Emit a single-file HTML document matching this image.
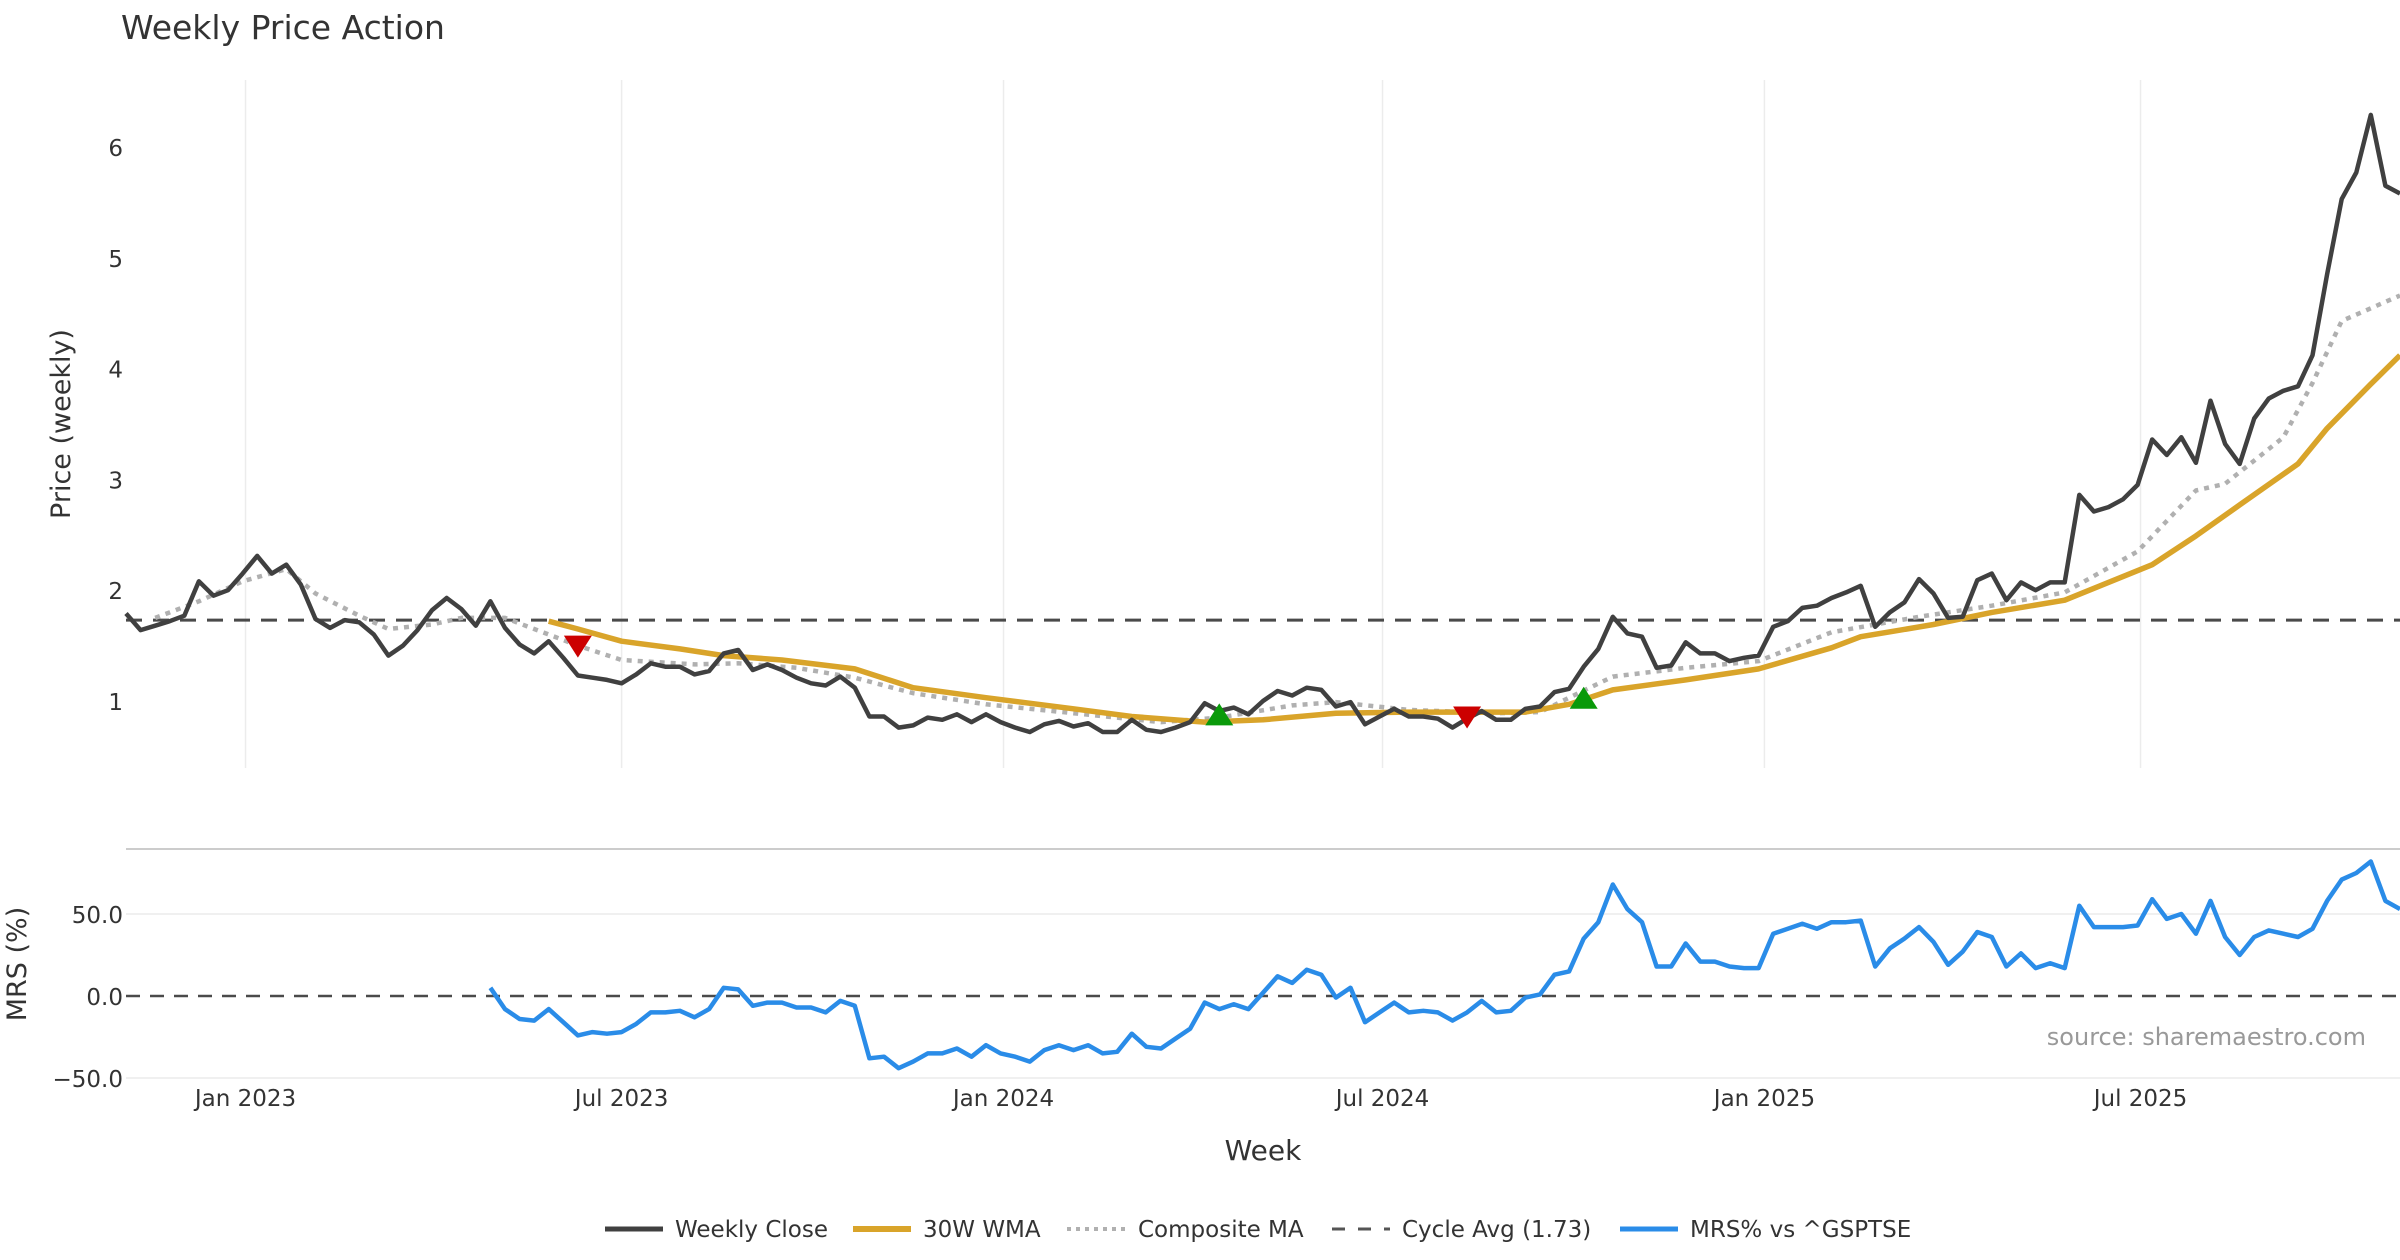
<!DOCTYPE html>
<html><head><meta charset="utf-8"><style>
html,body{margin:0;padding:0;background:#fff;}
svg{display:block;font-family:"DejaVu Sans","Liberation Sans",sans-serif;}
</style></head><body>
<svg id="chart" width="2400" height="1260" viewBox="0 0 2400 1260">
<text x="121" y="39" font-size="33" fill="#333">Weekly Price Action</text>
<text transform="translate(70,424) rotate(-90)" text-anchor="middle" font-size="27" fill="#333">Price (weekly)</text>
<text transform="translate(26,964) rotate(-90)" text-anchor="middle" font-size="27" fill="#333">MRS (%)</text>
<text x="1263" y="1160" text-anchor="middle" font-size="28" fill="#333">Week</text>
<text x="2366" y="1045" text-anchor="end" font-size="24" fill="#999">source: sharemaestro.com</text>
<line x1="126" y1="849" x2="2400" y2="849" stroke="#ccc" stroke-width="2"/>
<g id="grid"></g><g id="ticks"></g><g id="series"></g>
<g id="legend" font-size="23" fill="#333">
<g><line x1="605" y1="1229" x2="663" y2="1229" stroke="#404040" stroke-width="5"/><text x="675" y="1237">Weekly Close</text></g>
<g><line x1="853" y1="1229" x2="911" y2="1229" stroke="#d9a42a" stroke-width="6"/><text x="923" y="1237">30W WMA</text></g>
<g><line x1="1067" y1="1229" x2="1125" y2="1229" stroke="#b0b0b0" stroke-width="4" stroke-dasharray="4,5"/><text x="1138" y="1237">Composite MA</text></g>
<g><line x1="1332" y1="1229" x2="1390" y2="1229" stroke="#555" stroke-width="3" stroke-dasharray="13,13"/><text x="1402" y="1237">Cycle Avg (1.73)</text></g>
<g><line x1="1620" y1="1229" x2="1678" y2="1229" stroke="#2a8ce8" stroke-width="5"/><text x="1690" y="1237">MRS% vs ^GSPTSE</text></g>
</g>
</svg>
<script>
const closeValues=[1.79,1.64,1.68,1.72,1.77,2.08,1.95,2.0,2.15,2.31,2.15,2.23,2.05,1.74,1.66,1.73,1.71,1.60,1.41,1.50,1.64,1.82,1.93,1.83,1.68,1.90,1.66,1.51,1.43,1.54,1.39,1.23,1.21,1.19,1.16,1.24,1.34,1.31,1.31,1.24,1.27,1.43,1.46,1.28,1.33,1.28,1.21,1.16,1.14,1.22,1.12,0.86,0.86,0.76,0.78,0.85,0.83,0.88,0.81,0.88,0.81,0.76,0.72,0.79,0.82,0.77,0.80,0.72,0.72,0.83,0.74,0.72,0.76,0.81,0.98,0.91,0.94,0.88,1.00,1.09,1.05,1.12,1.10,0.95,0.99,0.79,0.86,0.93,0.86,0.86,0.84,0.76,0.84,0.91,0.83,0.83,0.93,0.95,1.08,1.11,1.31,1.47,1.76,1.61,1.58,1.30,1.32,1.53,1.43,1.43,1.36,1.39,1.41,1.67,1.72,1.84,1.86,1.93,1.98,2.04,1.67,1.80,1.89,2.10,1.97,1.75,1.76,2.09,2.15,1.91,2.07,2.00,2.07,2.07,2.86,2.71,2.75,2.82,2.95,3.36,3.22,3.38,3.15,3.71,3.32,3.14,3.55,3.73,3.80,3.84,4.12,4.85,5.53,5.77,6.29,5.65,5.58];
const wmaWeeks=[29,31,34,38,41,45,50,54,59,65,69,74,78,83,88,96,99,102,107,112,117,119,124,128,133,139,142,145,149,151,154,156];
const wmaValues=[1.72,1.65,1.54,1.47,1.41,1.37,1.29,1.12,1.03,0.93,0.86,0.81,0.83,0.89,0.90,0.90,0.97,1.10,1.19,1.29,1.48,1.58,1.69,1.80,1.91,2.23,2.49,2.77,3.14,3.46,3.86,4.12];
const compWeeks=[2,5,8,11,13,16,18,21,23,26,28,31,34,39,42,46,50,54,59,65,71,75,80,83,88,94,97,99,102,107,112,117,123,128,133,138,142,144,148,150,152,156];
const compValues=[1.75,1.90,2.08,2.19,1.97,1.77,1.65,1.69,1.75,1.75,1.65,1.50,1.37,1.33,1.34,1.30,1.21,1.07,0.97,0.89,0.81,0.85,0.96,0.99,0.92,0.89,0.90,1.03,1.22,1.30,1.36,1.62,1.76,1.86,1.98,2.35,2.90,2.96,3.38,3.87,4.43,4.66];
const mrsValues=[5,-8,-14,-15,-8,-16,-24,-22,-23,-22,-17,-10,-10,-9,-13,-8,5,4,-6,-4,-4,-7,-7,-10,-3,-6,-38,-37,-44,-40,-35,-35,-32,-37,-30,-35,-37,-40,-33,-30,-33,-30,-35,-34,-23,-31,-32,-26,-20,-4,-8,-5,-8,2,12,8,16,13,-1,5,-16,-10,-4,-10,-9,-10,-15,-10,-3,-10,-9,-1,1,13,15,35,45,68,53,45,18,18,32,21,21,18,17,17,38,41,44,41,45,45,46,18,29,35,42,33,19,27,39,36,18,26,17,20,17,55,42,42,42,43,59,47,50,38,58,36,25,36,40,38,36,41,58,71,75,82,58,53];
const signalWeeks=[31,75,92,100];
const signalValues=[1.50,0.87,0.86,1.02];
const signalTypes=["sell","buy","sell","buy"];
const cycleAvg=1.73;
const priceTicks=[1,2,3,4,5,6];
const mrsTicks=[50,0,-50];
const mrsTickLabels=["50.0","0.0","\u221250.0"];
const dateTickWeeks=[8.2,34,60.2,86.2,112.4,138.2];
const dateTickLabels=["Jan 2023","Jul 2023","Jan 2024","Jul 2024","Jan 2025","Jul 2025"];

const NS="http://www.w3.org/2000/svg";
const X0=126,X1=2400,N=closeValues.length;
const x=i=>X0+i*(X1-X0)/(N-1);
const yP=v=>701-(v-1)*110.8;
const yM=v=>996-v*1.64;
function mk(tag,attrs,parent){const e=document.createElementNS(NS,tag);for(const k in attrs)e.setAttribute(k,attrs[k]);parent.appendChild(e);return e;}
const grid=document.getElementById('grid'),ticks=document.getElementById('ticks'),ser=document.getElementById('series');

dateTickWeeks.forEach((w,k)=>{
  const g=mk('line',{x1:x(w),x2:x(w),y1:80,y2:768,stroke:'#ececec','stroke-width':1.5},grid);
  
  
  const t=mk('text',{x:x(w),y:1106,'text-anchor':'middle','font-size':23,fill:'#333'},ticks);
  t.textContent=dateTickLabels[k];
  
  
});
priceTicks.forEach(v=>{
  const t=mk('text',{x:123,y:yP(v)+9,'text-anchor':'end','font-size':23,fill:'#333'},ticks);
  t.textContent=v;
  
  
});
mrsTicks.forEach((v,k)=>{
  if(v!==0){const g=mk('line',{x1:X0,x2:X1,y1:yM(v),y2:yM(v),stroke:'#ececec','stroke-width':1.5},grid);
  
  }
  const t=mk('text',{x:123,y:yM(v)+9,'text-anchor':'end','font-size':23,fill:'#333'},ticks);
  t.textContent=mrsTickLabels[k];
  
  
});
function path(xs,ys,attrs,name){
  const d=xs.map((xx,k)=>(k?'L':'M')+xx.toFixed(1)+','+ys[k].toFixed(1)).join('');
  const p=mk('path',Object.assign({d:d,fill:'none','stroke-linejoin':'round'},attrs),ser);
  
  
}
const cl=mk('line',{x1:X0,x2:X1,y1:yP(cycleAvg),y2:yP(cycleAvg),stroke:'#4a4a4a','stroke-width':3,'stroke-dasharray':'16,11'},ser);


const zl=mk('line',{x1:X0,x2:X1,y1:yM(0),y2:yM(0),stroke:'#4a4a4a','stroke-width':2.5,'stroke-dasharray':'14,10'},ser);


path(compWeeks.map(x),compValues.map(yP),{stroke:'#b0b0b0','stroke-width':4.5,'stroke-dasharray':'5,6'},'composite-ma-line');
path(wmaWeeks.map(x),wmaValues.map(yP),{stroke:'#d9a42a','stroke-width':5.5},'wma-line');
path(closeValues.map((v,i)=>x(i)),closeValues.map(yP),{stroke:'#404040','stroke-width':4.5},'weekly-close-line');
const m0=N-mrsValues.length;
path(mrsValues.map((v,i)=>x(i+m0)),mrsValues.map(yM),{stroke:'#2a8ce8','stroke-width':4.5},'mrs-line');
signalWeeks.forEach((w,k)=>{
  const cx=x(w),cy=yP(signalValues[k]);let pts;
  if(signalTypes[k]==='sell')pts=[[cx-14,cy-10],[cx+14,cy-10],[cx,cy+12]];
  else pts=[[cx-14,cy+10],[cx+14,cy+10],[cx,cy-12]];
  const p=mk('polygon',{points:pts.map(a=>a.join(',')).join(' '),fill:signalTypes[k]==='sell'?'#cc0000':'#0a9a0a'},ser);
  
  
});
</script>
</body></html>
